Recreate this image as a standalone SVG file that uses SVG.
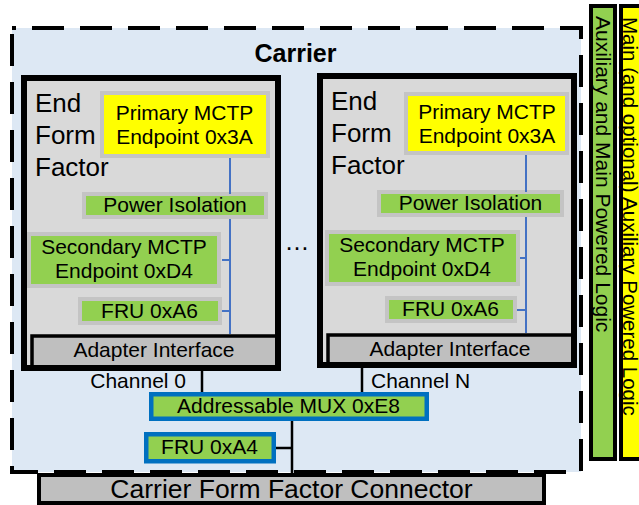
<svg xmlns="http://www.w3.org/2000/svg" width="639" height="505" viewBox="0 0 639 505">
<style>
text{font-family:"Liberation Sans",Arial,sans-serif;fill:#000}
.t21{font-size:21px}
.t26{font-size:26px}
.c{text-anchor:middle}
.eff{fill:#d9d9d9}
.effb{fill:none;stroke:#000;stroke-width:6}
.gbox{fill:#92d050;stroke:#c4c4c4;stroke-width:4}
.ybox{fill:#ffff00;stroke:#c4c4c4;stroke-width:4}
.adp{fill:#bfbfbf;stroke:#000;stroke-width:3.5}
.bbox{fill:#92d050;stroke:#0070c0;stroke-width:4.5}
.bl{stroke:#4472c4;stroke-width:2;fill:none}
.k{stroke:#000;stroke-width:2.5;fill:none}
</style>
<g id="carrier">
<rect x="12" y="28" width="569" height="444" fill="#dde8f4" stroke="#000" stroke-width="4" stroke-dasharray="32 16" stroke-dashoffset="28"/>
<text x="295.5" y="62" class="c" style="font-size:25px;font-weight:bold">Carrier</text>
</g>
<g id="eff-left">
<rect x="24" y="78" width="254" height="290" class="eff"/>
<g id="primary-left"><rect x="102" y="93" width="166" height="63" class="ybox"/>
<text x="184.5" y="120" class="t21 c">Primary MCTP</text><text x="184.5" y="144" class="t21 c">Endpoint 0x3A</text></g>
<g id="power-left"><rect x="84" y="194" width="182" height="23" class="gbox"/>
<text x="175" y="212" class="t21 c">Power Isolation</text></g>
<g id="secondary-left"><rect x="29" y="234" width="190" height="52" class="gbox"/>
<text x="124" y="254" class="t21 c">Secondary MCTP</text><text x="124" y="278" class="t21 c">Endpoint 0xD4</text></g>
<g id="fru-a6-left"><rect x="80" y="299" width="140" height="24" class="gbox"/>
<text x="149.5" y="318" class="t21 c">FRU 0xA6</text></g>
<g id="adapter-left"><rect x="32" y="336" width="245" height="32" class="adp"/>
<text x="154" y="357" class="t21 c">Adapter Interface</text></g>
<text x="35" y="112" class="t26">End</text><text x="35" y="144" class="t26">Form</text><text x="35" y="176" class="t26">Factor</text>
<rect x="24" y="78" width="254" height="290" class="effb"/>
</g>
<g id="eff-right">
<rect x="320" y="76" width="254" height="289" class="eff"/>
<g id="primary-right"><rect x="406" y="94" width="161" height="59" class="ybox"/>
<text x="487" y="119" class="t21 c">Primary MCTP</text><text x="487" y="143" class="t21 c">Endpoint 0x3A</text></g>
<g id="power-right"><rect x="379" y="192" width="183" height="23" class="gbox"/>
<text x="470.5" y="210" class="t21 c">Power Isolation</text></g>
<g id="secondary-right"><rect x="327" y="232" width="191" height="52" class="gbox"/>
<text x="422" y="252" class="t21 c">Secondary MCTP</text><text x="422" y="276" class="t21 c">Endpoint 0xD4</text></g>
<g id="fru-a6-right"><rect x="387" y="298" width="128" height="23" class="gbox"/>
<text x="450.5" y="316" class="t21 c">FRU 0xA6</text></g>
<g id="adapter-right"><rect x="328" y="335" width="245" height="31" class="adp"/>
<text x="450" y="356" class="t21 c">Adapter Interface</text></g>
<text x="331" y="110" class="t26">End</text><text x="331" y="142" class="t26">Form</text><text x="331" y="174" class="t26">Factor</text>
<rect x="320" y="76" width="254" height="289" class="effb"/>
</g>
<g id="ellipsis"><text x="297" y="250" class="c" style="font-size:25px">…</text></g>
<g id="connectors">
<path class="bl" d="M230 158V194M230 219V334M222 260H230M222 311H230"/>
<path class="bl" d="M526 155V192M526 217V333M520 258H526M517 310H526"/>
<path class="k" d="M202 369V392M362 366V392M292 421V473M276 448H292"/>
</g>
<g id="mux"><rect x="151.25" y="394.25" width="275.5" height="24.5" class="bbox"/>
<text x="288.5" y="413" class="t21 c">Addressable MUX 0xE8</text></g>
<g id="fru-a4"><rect x="146.25" y="434.25" width="127.5" height="27" class="bbox"/>
<text x="209.5" y="454" class="t21 c">FRU 0xA4</text></g>
<g id="labels">
<text x="186" y="388" class="t21" text-anchor="end">Channel 0</text>
<text x="371" y="388" class="t21">Channel N</text>
</g>
<g id="connector"><rect x="39" y="475" width="505" height="28" fill="#bfbfbf" stroke="#000" stroke-width="4"/>
<text x="291.5" y="498" class="c" style="font-size:26.5px">Carrier Form Factor Connector</text></g>
<g id="aux-main"><rect x="591" y="6" width="24" height="453" fill="#92d050" stroke="#000" stroke-width="4"/>
<text transform="translate(596,16) rotate(90)" class="t21">Auxiliary and Main Powered Logic</text></g>
<g id="main-aux"><rect x="621" y="6" width="24" height="453" fill="#ffff00" stroke="#000" stroke-width="4"/>
<text transform="translate(623,17) rotate(90)" style="font-size:20.5px">Main (and optional) Auxiliary Powered Logic</text></g>
</svg>
